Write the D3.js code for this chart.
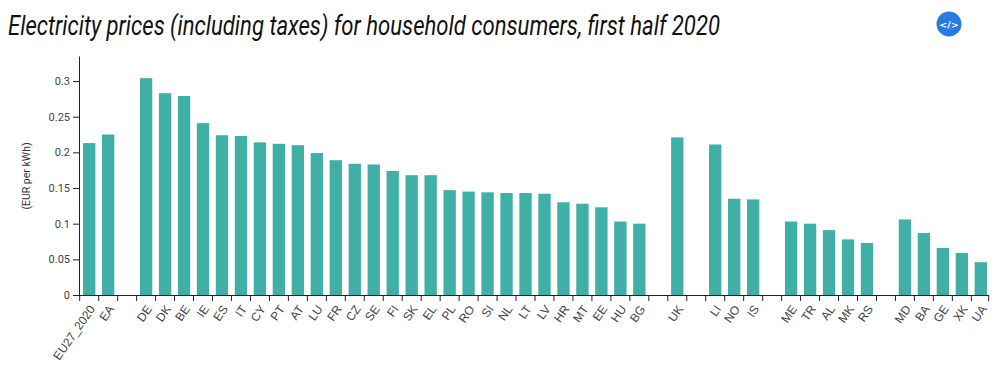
<!DOCTYPE html>
<html><head><meta charset="utf-8">
<script src="https://cdn.jsdelivr.net/npm/d3@7"></script>
<style>html,body{margin:0;padding:0;background:#fff;overflow:hidden}svg{display:block}</style>
</head><body><svg id="c" width="1000" height="384"></svg>
<script>
const titleText = "Electricity prices (including taxes) for household consumers, first half 2020";
const yLabel = "(EUR per kWh)";
const slots = ["EU27_2020","EA","_1","DE","DK","BE","IE","ES","IT","CY","PT","AT","LU","FR","CZ","SE","FI","SK","EL","PL","RO","SI","NL","LT","LV","HR","MT","EE","HU","BG","_2","UK","_3","LI","NO","IS","_4","ME","TR","AL","MK","RS","_5","MD","BA","GE","XK","UA"];
const values = [0.213,0.225,null,0.304,0.283,0.279,0.241,0.224,0.223,0.214,0.212,0.210,0.199,0.189,0.184,0.183,0.174,0.168,0.168,0.147,0.145,0.144,0.143,0.143,0.142,0.130,0.128,0.123,0.103,0.100,null,0.221,null,0.211,0.135,0.134,null,0.103,0.100,0.091,0.078,0.073,null,0.106,0.087,0.066,0.059,0.046];
const yTicks = [0,0.05,0.1,0.15,0.2,0.25,0.3];

const svg = d3.select("#c");
const x = d3.scaleBand().domain(slots).range([79.7,990.3]).paddingInner(0.35).paddingOuter(0.175);
const y = d3.scaleLinear().domain([0,0.3351]).range([295,56]);

svg.append("text").attr("x",8).attr("y",35)
  .attr("font-family","Roboto").attr("font-style","italic").attr("font-size",27)
  .attr("fill","#111").attr("textLength",712).attr("lengthAdjust","spacingAndGlyphs").text(titleText);

svg.append("g").selectAll("rect").data(slots.map((s,i)=>({s,v:values[i]})).filter(d=>d.v!=null)).join("rect")
  .attr("x",d=>x(d.s)).attr("width",x.bandwidth()).attr("y",d=>y(d.v)).attr("height",d=>y(0)-y(d.v)).attr("fill","#40b0a6");

const gy = svg.append("g").attr("transform","translate(79,0)")
  .call(d3.axisLeft(y).tickValues(yTicks).tickFormat(d=>String(d)).tickSize(6).tickSizeOuter(0));
gy.selectAll("text").attr("font-family","Roboto, sans-serif").attr("font-size",11).attr("fill","#444");
gy.selectAll("line,path").attr("stroke","#222");

const gx = svg.append("g").attr("transform","translate(0,295)")
  .call(d3.axisBottom(x).tickSize(6).tickSizeOuter(0).tickFormat(d=>d[0]==="_"?"":d));
gx.select(".domain").attr("stroke","#222").attr("d","M79,0.5H989");
gx.selectAll("line").attr("stroke","#222").attr("x1",-x.step()/2).attr("x2",-x.step()/2);
gx.selectAll("text").attr("font-family","'Liberation Sans', Arial, sans-serif").attr("font-size",12).attr("fill","#444")
  .attr("text-anchor","end").attr("transform","translate(6.5,14) rotate(-55)").attr("x",0).attr("y",0).attr("dy","0");
gx.append("line").attr("x1",988.7).attr("x2",988.7).attr("y1",0).attr("y2",6).attr("stroke","#222");

svg.append("text").attr("transform","translate(30,176) rotate(-90)").attr("text-anchor","middle")
  .attr("font-family","Roboto, sans-serif").attr("font-size",10.5).attr("fill","#333").text(yLabel);

const ic = svg.append("g").attr("transform","translate(949,24)");
ic.append("circle").attr("r",12.5).attr("fill","#2a7ae2");
ic.append("text").attr("text-anchor","middle").attr("y",3.5).attr("font-family","'DejaVu Sans', sans-serif").attr("font-weight","bold").attr("font-size",9.5).attr("fill","#fff").text("</>");
</script></body></html>
